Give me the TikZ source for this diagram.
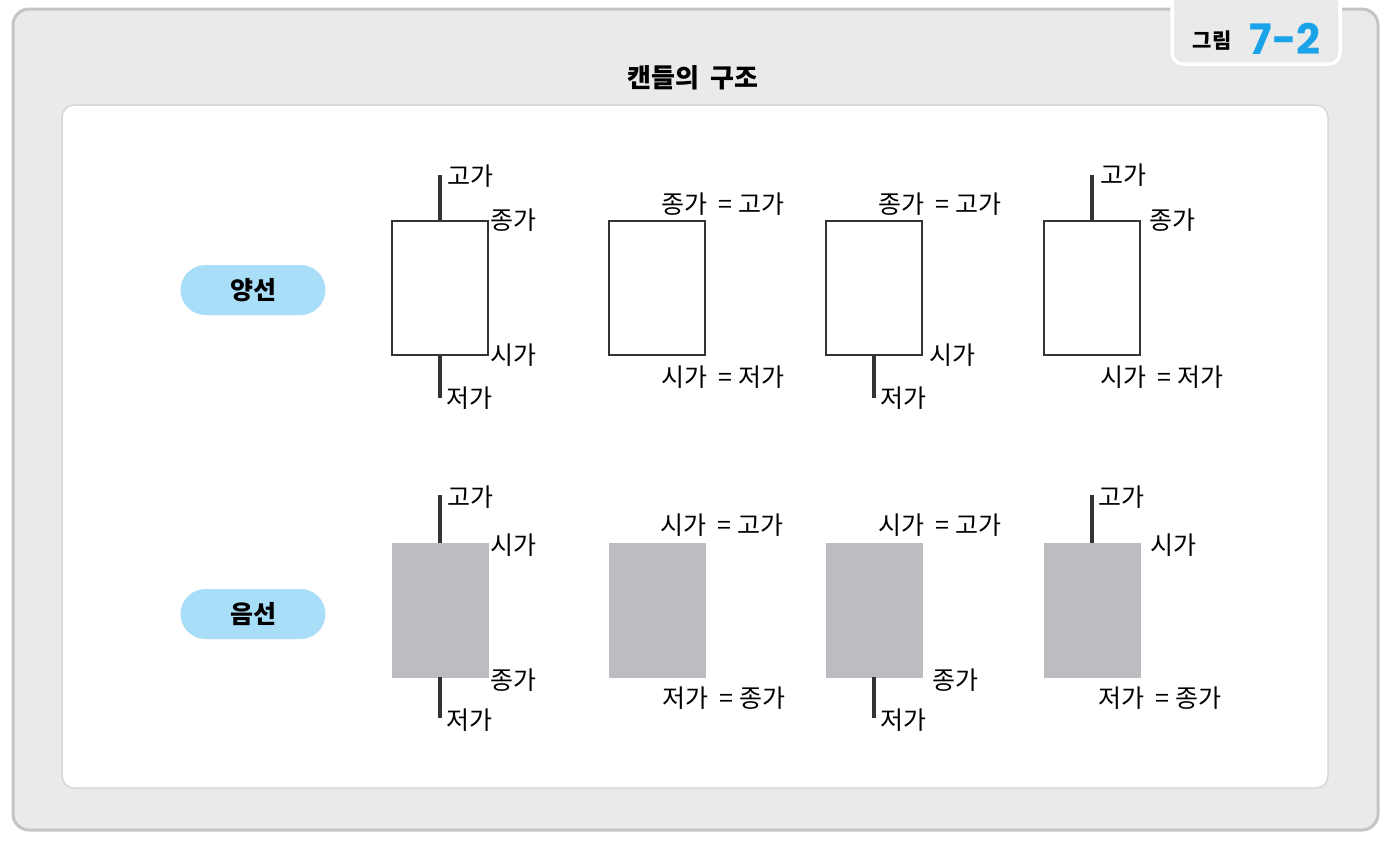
\documentclass[tikz,border=0pt]{standalone}
\usepackage{fontspec}
\setmainfont{Noto Sans CJK KR}
\newfontfamily\kr{Noto Sans CJK KR}
\newfontfamily\numfont{Poppins}
\definecolor{framegray}{HTML}{EAEAEA}
\definecolor{frameline}{HTML}{C4C4C4}
\definecolor{panelline}{HTML}{D6D6D6}
\definecolor{pillblue}{HTML}{A9DEF9}
\definecolor{candlegray}{HTML}{BCBDC1}
\definecolor{figblue}{HTML}{1AA3E8}
\definecolor{ink}{HTML}{333333}
\tikzset{
  whitecandle/.style={draw=ink, line width=1.6pt, fill=white, minimum width=96pt, minimum height=134pt, inner sep=0pt},
  graycandle/.style={draw=candlegray, line width=0.5pt, fill=candlegray, minimum width=96pt, minimum height=134pt, inner sep=0pt},
  wick/.style={draw=ink, line width=3.5pt},
  lbl/.style={font=\kr\fontsize{25}{25}\selectfont, text=black, inner sep=0pt},
  lblw/.style={lbl, anchor=west},
  pill/.style={fill=pillblue, rounded corners=25pt, minimum width=145pt, minimum height=50pt, inner sep=0pt, font=\kr\bfseries\fontsize{25}{25}\selectfont},
}
\begin{document}
\begin{tikzpicture}[x=1pt,y=-1pt]
\useasboundingbox (0,0) rectangle (1393,847);
% outer frame
\draw[fill=framegray, draw=frameline, line width=3pt, rounded corners=16pt] (13,9) rectangle (1378,830);
% tab
\draw[fill=framegray, draw=white, line width=3.5pt, rounded corners=11pt] (1172,-20) rectangle (1340,64);
\node[font=\kr\bfseries\fontsize{21}{21}\selectfont, inner sep=0pt] (tabtxt) at (1212,41) {그림};
\node[font=\numfont\bfseries\fontsize{42}{42}\selectfont, text=figblue, inner sep=0pt] (tabnum) at (1285,39) {7-2};
% title
\node[font=\kr\bfseries\fontsize{26}{26}\selectfont, inner sep=0pt] (title) at (693,78) {캔들의\ \ 구조};
% inner panel
\draw[fill=white, draw=panelline, line width=1.5pt, rounded corners=12pt] (62,105) rectangle (1328,788);
% pills
\node[pill] (yang) at (253,290) {양선};
\node[pill] (eum) at (253,614) {음선};

% ===== top row (white candles) =====
\node[whitecandle] (w1) at (440,288) {};
\node[whitecandle] (w2) at (657,288) {};
\node[whitecandle] (w3) at (874,288) {};
\node[whitecandle] (w4) at (1092,288) {};
\coordinate (w1t) at (440,175);
\coordinate (w1b) at (440,398);
\coordinate (w3b) at (874,398);
\coordinate (w4t) at (1092,175);
\draw[wick] (w1.north) -- (w1t);
\draw[wick] (w1.south) -- (w1b);
\draw[wick] (w3.south) -- (w3b);
\draw[wick] (w4.north) -- (w4t);

\node[lblw] (w1hi) at (447,176) {고가};
\node[lblw] (w1cl) at (490,220) {종가};
\node[lblw] (w1op) at (490,355) {시가};
\node[lblw] (w1lo) at (446,398) {저가};
\node[lbl] (w2hi) at (723,204) {종가\ \ =\ 고가};
\node[lbl] (w2lo) at (723,377) {시가\ \ =\ 저가};
\node[lbl] (w3hi) at (940,204) {종가\ \ =\ 고가};
\node[lblw] (w3op) at (929,355) {시가};
\node[lblw] (w3lo) at (880,398) {저가};
\node[lblw] (w4hi) at (1100,175) {고가};
\node[lblw] (w4cl) at (1149,220) {종가};
\node[lbl] (w4lo) at (1162,377) {시가\ \ =\ 저가};

% ===== bottom row (gray candles) =====
\node[graycandle] (g1) at (440,610) {};
\node[graycandle] (g2) at (657,610) {};
\node[graycandle] (g3) at (874,610) {};
\node[graycandle] (g4) at (1092,610) {};
\coordinate (g1t) at (440,495);
\coordinate (g1b) at (440,718);
\coordinate (g3b) at (874,718);
\coordinate (g4t) at (1092,495);
\draw[wick] (g1.north) -- (g1t);
\draw[wick] (g1.south) -- (g1b);
\draw[wick] (g3.south) -- (g3b);
\draw[wick] (g4.north) -- (g4t);

\node[lblw] (g1hi) at (447,497) {고가};
\node[lblw] (g1op) at (490,545) {시가};
\node[lblw] (g1cl) at (490,680) {종가};
\node[lblw] (g1lo) at (446,720) {저가};
\node[lbl] (g2hi) at (722,525) {시가\ \ =\ 고가};
\node[lbl] (g2lo) at (724,698) {저가\ \ =\ 종가};
\node[lbl] (g3hi) at (940,525) {시가\ \ =\ 고가};
\node[lblw] (g3cl) at (932,680) {종가};
\node[lblw] (g3lo) at (880,720) {저가};
\node[lblw] (g4hi) at (1098,497) {고가};
\node[lblw] (g4op) at (1150,545) {시가};
\node[lbl] (g4lo) at (1160,698) {저가\ \ =\ 종가};
\end{tikzpicture}
\end{document}
